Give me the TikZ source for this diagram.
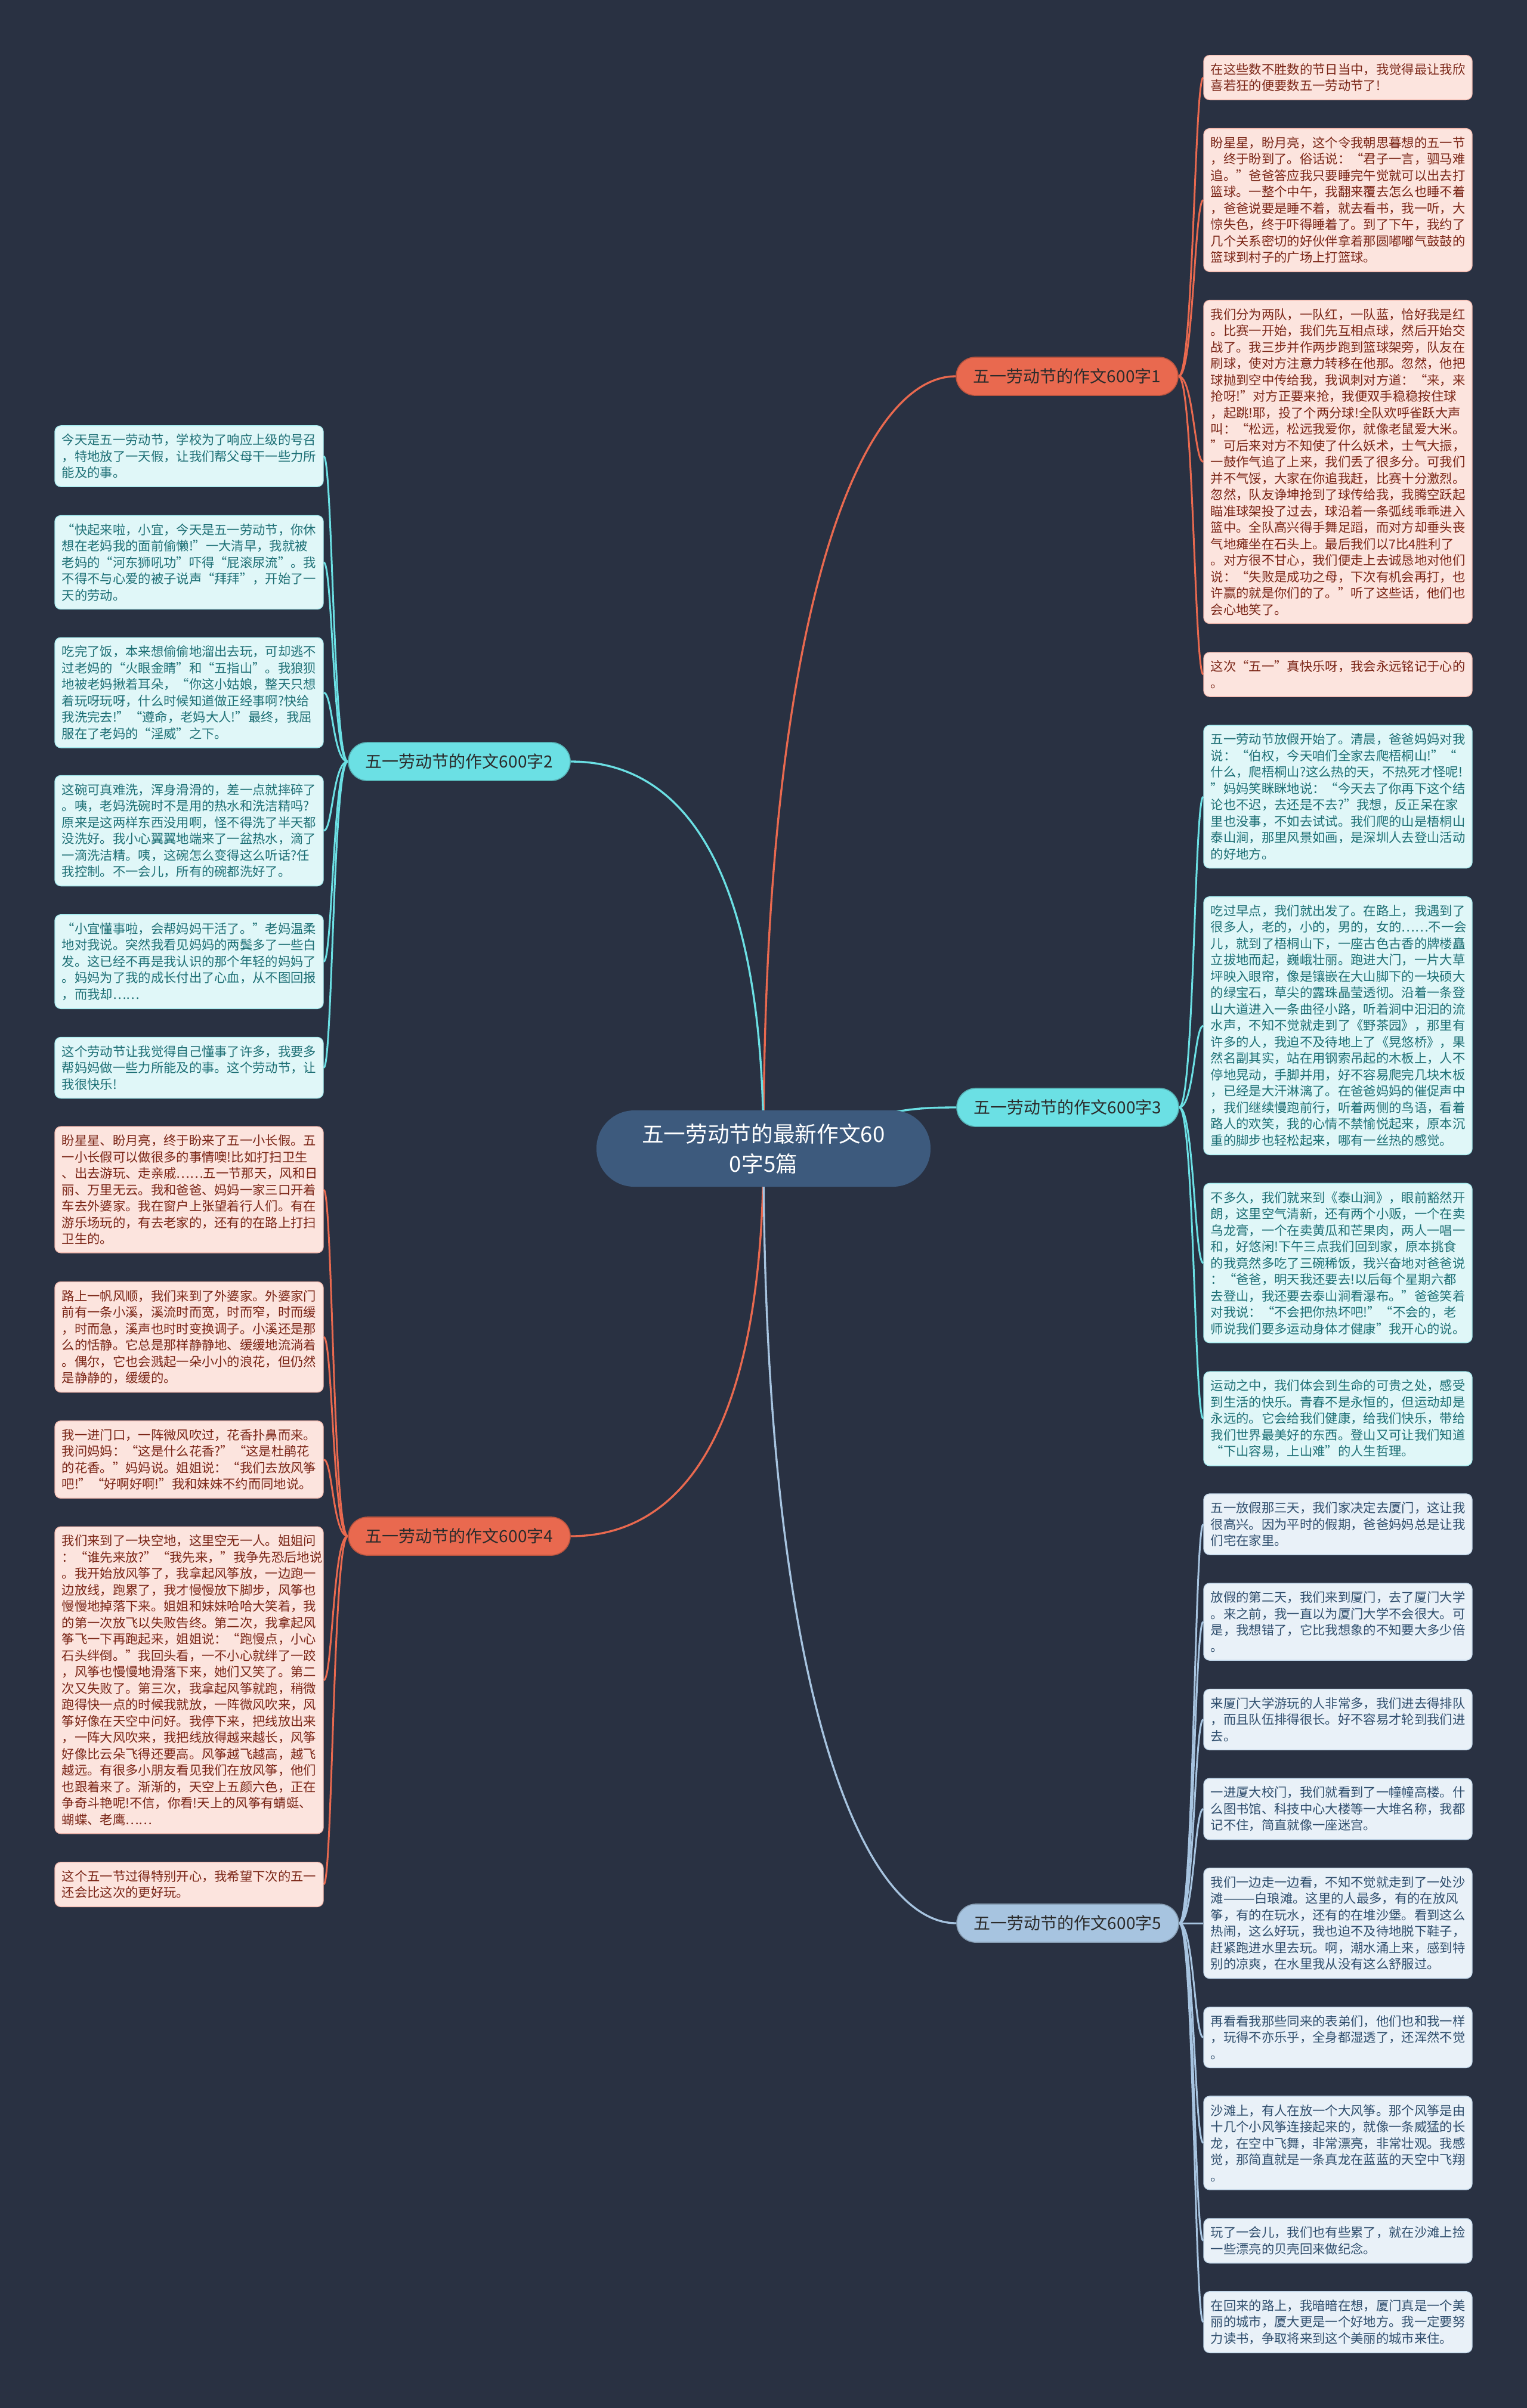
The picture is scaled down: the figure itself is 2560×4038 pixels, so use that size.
\documentclass[tikz,border=0pt]{standalone}
\usepackage{fontspec}
\setmainfont{Noto Sans CJK SC}
\usepackage{tikz}
\definecolor{mmbg}{HTML}{293142}
\definecolor{mmroot}{HTML}{3D5A7D}
\definecolor{mmred}{HTML}{E9694F}
\definecolor{mmcyan}{HTML}{6BE0E4}
\definecolor{mmblue}{HTML}{A7C4E0}
\definecolor{mmpink}{HTML}{FCE4DE}
\definecolor{mmice}{HTML}{E0F7F8}
\definecolor{mmmist}{HTML}{E9F1F8}
\definecolor{mmredtxt}{HTML}{7A2516}
\definecolor{mmcyantxt}{HTML}{1D6F75}
\definecolor{mmbluetxt}{HTML}{2F4E6D}
\definecolor{mmdark}{HTML}{2B2B2B}
\pgfdeclarelayer{back}
\pgfdeclarelayer{links}
\pgfsetlayers{back,links,main}
\tikzset{
  mm root/.style={
    rectangle, rounded corners=19pt, fill=mmroot, text=white,
    minimum width=168pt, minimum height=38.4pt,
    align=center, font=\fontsize{11}{15}\selectfont
  },
  mm branch/.style={
    rectangle, rounded corners=9.6pt, fill=#1, draw=#1!80!black, line width=0.5pt,
    minimum width=111.6pt, minimum height=19.2pt,
    text=mmdark, font=\fontsize{8.4}{10}\selectfont
  },
  mm leaf/.style={
    rectangle, rounded corners=3pt, line width=0.4pt,
    text width=128pt, inner xsep=3.5pt, inner ysep=4.1pt,
    align=left, font=\fontsize{6.4}{8.25}\selectfont
  },
  red leaf/.style={mm leaf, fill=mmpink, draw=mmred!45, text=mmredtxt},
  cyan leaf/.style={mm leaf, fill=mmice, draw=mmcyan!60, text=mmcyantxt},
  blue leaf/.style={mm leaf, fill=mmmist, draw=mmblue!70, text=mmbluetxt},
  mm trunk/.style={line width=1pt, draw=#1},
  mm link/.style={line width=0.9pt, draw=#1}
}
\begin{document}
\begin{tikzpicture}[x=0.3pt, y=-0.3pt]
  \begin{pgfonlayer}{back}
    \fill[mmbg] (0,0) rectangle (2560,4038);
  \end{pgfonlayer}
  \useasboundingbox (0,0) rectangle (2560,4038);

  % centre and main branches
  \node (root) [mm root] at (1280,1926) {五一劳动节的最新作文60\\0字5篇};
  \node (b1) [mm branch=mmred] at (1789,631) {五一劳动节的作文600字1};
  \node (b2) [mm branch=mmcyan] at (770,1277) {五一劳动节的作文600字2};
  \node (b3) [mm branch=mmcyan] at (1790,1857) {五一劳动节的作文600字3};
  \node (b4) [mm branch=mmred] at (770,2576) {五一劳动节的作文600字4};
  \node (b5) [mm branch=mmblue] at (1790,3225) {五一劳动节的作文600字5};

  % branch 1
  \node (r1a) [red leaf] at (2243,130) {在这些数不胜数的节日当中，我觉得最让我欣\\喜若狂的便要数五一劳动节了!};
  \node (r1b) [red leaf] at (2243,335.5) {盼星星，盼月亮，这个令我朝思暮想的五一节\\，终于盼到了。俗话说：“君子一言，驷马难\\追。”爸爸答应我只要睡完午觉就可以出去打\\篮球。一整个中午，我翻来覆去怎么也睡不着\\，爸爸说要是睡不着，就去看书，我一听，大\\惊失色，终于吓得睡着了。到了下午，我约了\\几个关系密切的好伙伴拿着那圆嘟嘟气鼓鼓的\\篮球到村子的广场上打篮球。};
  \node (r1c) [red leaf] at (2243,774.5) {我们分为两队，一队红，一队蓝，恰好我是红\\。比赛一开始，我们先互相点球，然后开始交\\战了。我三步并作两步跑到篮球架旁，队友在\\刷球，使对方注意力转移在他那。忽然，他把\\球抛到空中传给我，我讽刺对方道：“来，来\\抢呀!”对方正要来抢，我便双手稳稳按住球\\，起跳!耶，投了个两分球!全队欢呼雀跃大声\\叫：“松远，松远我爱你，就像老鼠爱大米。\\”可后来对方不知使了什么妖术，士气大振，\\一鼓作气追了上来，我们丢了很多分。可我们\\并不气馁，大家在你追我赶，比赛十分激烈。\\忽然，队友诤坤抢到了球传给我，我腾空跃起\\瞄准球架投了过去，球沿着一条弧线乖乖进入\\篮中。全队高兴得手舞足蹈，而对方却垂头丧\\气地瘫坐在石头上。最后我们以7比4胜利了\\。对方很不甘心，我们便走上去诚恳地对他们\\说：“失败是成功之母，下次有机会再打，也\\许赢的就是你们的了。”听了这些话，他们也\\会心地笑了。};
  \node (r1d) [red leaf] at (2243,1131) {这次“五一”真快乐呀，我会永远铭记于心的\\。};

  % branch 3
  \node (r3a) [cyan leaf] at (2243,1336) {五一劳动节放假开始了。清晨，爸爸妈妈对我\\说：“伯权，今天咱们全家去爬梧桐山!”“\\什么，爬梧桐山?这么热的天，不热死才怪呢!\\”妈妈笑眯眯地说：“今天去了你再下这个结\\论也不迟，去还是不去?”我想，反正呆在家\\里也没事，不如去试试。我们爬的山是梧桐山\\泰山涧，那里风景如画，是深圳人去登山活动\\的好地方。};
  \node (r3b) [cyan leaf] at (2243,1720) {吃过早点，我们就出发了。在路上，我遇到了\\很多人，老的，小的，男的，女的……不一会\\儿，就到了梧桐山下，一座古色古香的牌楼矗\\立拔地而起，巍峨壮丽。跑进大门，一片大草\\坪映入眼帘，像是镶嵌在大山脚下的一块硕大\\的绿宝石，草尖的露珠晶莹透彻。沿着一条登\\山大道进入一条曲径小路，听着涧中汩汩的流\\水声，不知不觉就走到了《野茶园》，那里有\\许多的人，我迫不及待地上了《晃悠桥》，果\\然名副其实，站在用钢索吊起的木板上，人不\\停地晃动，手脚并用，好不容易爬完几块木板\\，已经是大汗淋漓了。在爸爸妈妈的催促声中\\，我们继续慢跑前行，听着两侧的鸟语，看着\\路人的欢笑，我的心情不禁愉悦起来，原本沉\\重的脚步也轻松起来，哪有一丝热的感觉。};
  \node (r3c) [cyan leaf] at (2243,2118) {不多久，我们就来到《泰山涧》，眼前豁然开\\朗，这里空气清新，还有两个小贩，一个在卖\\乌龙膏，一个在卖黄瓜和芒果肉，两人一唱一\\和，好悠闲!下午三点我们回到家，原本挑食\\的我竟然多吃了三碗稀饭，我兴奋地对爸爸说\\：“爸爸，明天我还要去!以后每个星期六都\\去登山，我还要去泰山涧看瀑布。”爸爸笑着\\对我说：“不会把你热坏吧!”“不会的，老\\师说我们要多运动身体才健康”我开心的说。};
  \node (r3d) [cyan leaf] at (2243,2379) {运动之中，我们体会到生命的可贵之处，感受\\到生活的快乐。青春不是永恒的，但运动却是\\永远的。它会给我们健康，给我们快乐，带给\\我们世界最美好的东西。登山又可让我们知道\\“下山容易，上山难”的人生哲理。};

  % branch 5
  \node (r5a) [blue leaf] at (2243,2556) {五一放假那三天，我们家决定去厦门，这让我\\很高兴。因为平时的假期，爸爸妈妈总是让我\\们宅在家里。};
  \node (r5b) [blue leaf] at (2243,2719.5) {放假的第二天，我们来到厦门，去了厦门大学\\。来之前，我一直以为厦门大学不会很大。可\\是，我想错了，它比我想象的不知要大多少倍\\。};
  \node (r5c) [blue leaf] at (2243,2883.5) {来厦门大学游玩的人非常多，我们进去得排队\\，而且队伍排得很长。好不容易才轮到我们进\\去。};
  \node (r5d) [blue leaf] at (2243,3033.5) {一进厦大校门，我们就看到了一幢幢高楼。什\\么图书馆、科技中心大楼等一大堆名称，我都\\记不住，简直就像一座迷宫。};
  \node (r5e) [blue leaf] at (2243,3225) {我们一边走一边看，不知不觉就走到了一处沙\\滩———白琅滩。这里的人最多，有的在放风\\筝，有的在玩水，还有的在堆沙堡。看到这么\\热闹，这么好玩，我也迫不及待地脱下鞋子，\\赶紧跑进水里去玩。啊，潮水涌上来，感到特\\别的凉爽，在水里我从没有这么舒服过。};
  \node (r5f) [blue leaf] at (2243,3416.5) {再看看我那些同来的表弟们，他们也和我一样\\，玩得不亦乐乎，全身都湿透了，还浑然不觉\\。};
  \node (r5g) [blue leaf] at (2243,3593.5) {沙滩上，有人在放一个大风筝。那个风筝是由\\十几个小风筝连接起来的，就像一条威猛的长\\龙，在空中飞舞，非常漂亮，非常壮观。我感\\觉，那简直就是一条真龙在蓝蓝的天空中飞翔\\。};
  \node (r5h) [blue leaf] at (2243,3757.5) {玩了一会儿，我们也有些累了，就在沙滩上捡\\一些漂亮的贝壳回来做纪念。};
  \node (r5i) [blue leaf] at (2243,3894) {在回来的路上，我暗暗在想，厦门真是一个美\\丽的城市，厦大更是一个好地方。我一定要努\\力读书，争取将来到这个美丽的城市来住。};

  % branch 2
  \node (l2a) [cyan leaf] at (317,765) {今天是五一劳动节，学校为了响应上级的号召\\，特地放了一天假，让我们帮父母干一些力所\\能及的事。};
  \node (l2b) [cyan leaf] at (317,943) {“快起来啦，小宜，今天是五一劳动节，你休\\想在老妈我的面前偷懒!”一大清早，我就被\\老妈的“河东狮吼功”吓得“屁滚尿流”。我\\不得不与心爱的被子说声“拜拜”，开始了一\\天的劳动。};
  \node (l2c) [cyan leaf] at (317,1161.5) {吃完了饭，本来想偷偷地溜出去玩，可却逃不\\过老妈的“火眼金睛”和“五指山”。我狼狈\\地被老妈揪着耳朵，“你这小姑娘，整天只想\\着玩呀玩呀，什么时候知道做正经事啊?快给\\我洗完去!”“遵命，老妈大人!”最终，我屈\\服在了老妈的“淫威”之下。};
  \node (l2d) [cyan leaf] at (317,1393) {这碗可真难洗，浑身滑滑的，差一点就摔碎了\\。咦，老妈洗碗时不是用的热水和洗洁精吗?\\原来是这两样东西没用啊，怪不得洗了半天都\\没洗好。我小心翼翼地端来了一盆热水，滴了\\一滴洗洁精。咦，这碗怎么变得这么听话?任\\我控制。不一会儿，所有的碗都洗好了。};
  \node (l2e) [cyan leaf] at (317,1612.5) {“小宜懂事啦，会帮妈妈干活了。”老妈温柔\\地对我说。突然我看见妈妈的两鬓多了一些白\\发。这已经不再是我认识的那个年轻的妈妈了\\。妈妈为了我的成长付出了心血，从不图回报\\，而我却……};
  \node (l2f) [cyan leaf] at (317,1790.5) {这个劳动节让我觉得自己懂事了许多，我要多\\帮妈妈做一些力所能及的事。这个劳动节，让\\我很快乐!};

  % branch 4
  \node (l4a) [red leaf] at (317,1995) {盼星星、盼月亮，终于盼来了五一小长假。五\\一小长假可以做很多的事情噢!比如打扫卫生\\、出去游玩、走亲戚……五一节那天，风和日\\丽、万里无云。我和爸爸、妈妈一家三口开着\\车去外婆家。我在窗户上张望着行人们。有在\\游乐场玩的，有去老家的，还有的在路上打扫\\卫生的。};
  \node (l4b) [red leaf] at (317,2242) {路上一帆风顺，我们来到了外婆家。外婆家门\\前有一条小溪，溪流时而宽，时而窄，时而缓\\，时而急，溪声也时时变换调子。小溪还是那\\么的恬静。它总是那样静静地、缓缓地流淌着\\。偶尔，它也会溅起一朵小小的浪花，但仍然\\是静静的，缓缓的。};
  \node (l4c) [red leaf] at (317,2447.5) {我一进门口，一阵微风吹过，花香扑鼻而来。\\我问妈妈：“这是什么花香?”“这是杜鹃花\\的花香。”妈妈说。姐姐说：“我们去放风筝\\吧!”“好啊好啊!”我和妹妹不约而同地说。};
  \node (l4d) [red leaf] at (317,2817.5) {我们来到了一块空地，这里空无一人。姐姐问\\：“谁先来放?”“我先来，”我争先恐后地说\\。我开始放风筝了，我拿起风筝放，一边跑一\\边放线，跑累了，我才慢慢放下脚步，风筝也\\慢慢地掉落下来。姐姐和妹妹哈哈大笑着，我\\的第一次放飞以失败告终。第二次，我拿起风\\筝飞一下再跑起来，姐姐说：“跑慢点，小心\\石头绊倒。”我回头看，一不小心就绊了一跤\\，风筝也慢慢地滑落下来，她们又笑了。第二\\次又失败了。第三次，我拿起风筝就跑，稍微\\跑得快一点的时候我就放，一阵微风吹来，风\\筝好像在天空中问好。我停下来，把线放出来\\，一阵大风吹来，我把线放得越来越长，风筝\\好像比云朵飞得还要高。风筝越飞越高，越飞\\越远。有很多小朋友看见我们在放风筝，他们\\也跟着来了。渐渐的，天空上五颜六色，正在\\争奇斗艳呢!不信，你看!天上的风筝有蜻蜓、\\蝴蝶、老鹰……};
  \node (l4e) [red leaf] at (317,3160) {这个五一节过得特别开心，我希望下次的五一\\还会比这次的更好玩。};

  \begin{pgfonlayer}{links}
    % root to branches
    \draw[mm trunk=mmred] (root.center) .. controls +(0,-900) and +(-160,0) .. (b1.west);
    \draw[mm trunk=mmcyan] (root.center) .. controls +(0,-450) and +(200,0) .. (b2.east);
    \draw[mm trunk=mmcyan] (root.center) .. controls +(200,-60) and +(-100,0) .. (b3.west);
    \draw[mm trunk=mmred] (root.center) .. controls +(0,450) and +(200,0) .. (b4.east);
    \draw[mm trunk=mmblue] (root.center) .. controls +(0,900) and +(-160,0) .. (b5.west);
    % branches to leaves
    \foreach \n in {r1a,r1b,r1c,r1d}
      \draw[mm link=mmred] (b1.east) .. controls +(25,0) and +(-15,0) .. (\n.west);
    \foreach \n in {r3a,r3b,r3c,r3d}
      \draw[mm link=mmcyan] (b3.east) .. controls +(25,0) and +(-15,0) .. (\n.west);
    \foreach \n in {r5a,r5b,r5c,r5d,r5e,r5f,r5g,r5h,r5i}
      \draw[mm link=mmblue] (b5.east) .. controls +(25,0) and +(-15,0) .. (\n.west);
    \foreach \n in {l2a,l2b,l2c,l2d,l2e,l2f}
      \draw[mm link=mmcyan] (b2.west) .. controls +(-25,0) and +(15,0) .. (\n.east);
    \foreach \n in {l4a,l4b,l4c,l4d,l4e}
      \draw[mm link=mmred] (b4.west) .. controls +(-25,0) and +(15,0) .. (\n.east);
  \end{pgfonlayer}
\end{tikzpicture}
\end{document}
